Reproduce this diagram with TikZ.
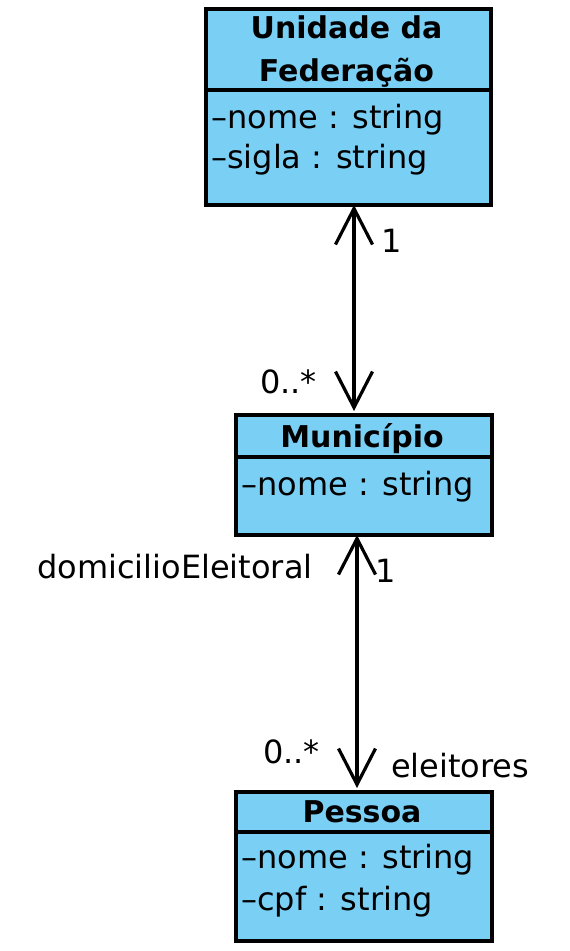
\documentclass[tikz,border=0pt]{standalone}
\usepackage{fontspec}
\setmainfont{DejaVu Sans}
\usetikzlibrary{arrows.meta}
\definecolor{classfill}{RGB}{122,207,245}
\tikzset{
  classbox/.style={draw=black, line width=3.5pt, fill=classfill, rectangle, inner sep=0pt},
  divider/.style={line width=3.5pt},
  ttl/.style={font=\fontsize{30}{36}\selectfont\bfseries, anchor=base, inner sep=0pt},
  attr/.style={font=\fontsize{32}{38}\selectfont, anchor=base west, inner sep=0pt},
  lbl/.style={font=\fontsize{32}{38}\selectfont, inner sep=0pt},
  assoc/.style={line width=3.2pt, {Straight Barb[length=36pt,width=37pt,line width=3.2pt]}-{Straight Barb[length=36pt,width=37pt,line width=3.2pt]}}
}
\begin{document}
\begin{tikzpicture}[x=1pt,y=-1pt]
\useasboundingbox (0,0) rectangle (570,951);
% Unidade da Federação
\node[classbox, minimum width=285pt, minimum height=196pt, anchor=north west] (uf) at (204,7) {};
\draw[divider] (uf.west |- 0,90) -- (uf.east |- 0,90);
\node[ttl] (uft1) at (346.5,38) {Unidade da};
\node[ttl] (uft2) at (346.5,81) {Federação};
\node[attr] (ufa1) at (211,128) {–nome : string};
\node[attr] (ufa2) at (211,168) {–sigla : string};
% Municipio
\node[classbox, minimum width=256pt, minimum height=120pt, anchor=north west] (mun) at (234,413) {};
\draw[divider] (mun.west |- 0,457) -- (mun.east |- 0,457);
\node[ttl] (munt) at (362,447) {Município};
\node[attr] (muna1) at (241,495) {–nome : string};
% Pessoa
\node[classbox, minimum width=256pt, minimum height=149pt, anchor=north west] (pes) at (234,790) {};
\draw[divider] (pes.west |- 0,832) -- (pes.east |- 0,832);
\node[ttl] (pest) at (362,822) {Pessoa};
\node[attr] (pesa1) at (241,868) {–nome : string};
\node[attr] (pesa2) at (241,910) {–cpf : string};
% associations
\coordinate (a1t) at (354,205);
\coordinate (a1b) at (354,411);
\coordinate (a2t) at (357,535);
\coordinate (a2b) at (357,788);
\draw[assoc] (a1t) -- (a1b);
\draw[assoc] (a2t) -- (a2b);
% labels
\node[lbl, anchor=base] (m1) at (392,252) {1};
\node[lbl, anchor=base east] (m2) at (317,393) {0..*};
\node[lbl, anchor=base west] (r1) at (37,578) {domicilioEleitoral};
\node[lbl, anchor=base] (m3) at (386,582) {1};
\node[lbl, anchor=base east] (m4) at (320,763) {0..*};
\node[lbl, anchor=base west] (r2) at (391,777) {eleitores};
\end{tikzpicture}
\end{document}
